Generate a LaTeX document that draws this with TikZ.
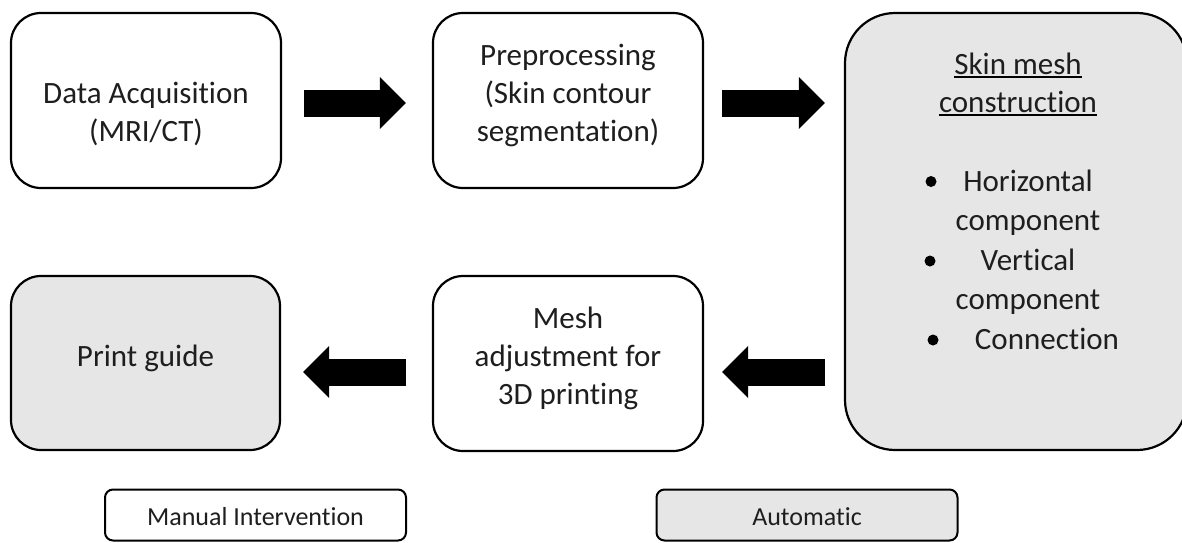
\documentclass[tikz,border=0pt]{standalone}
\usepackage{fontspec}
\setmainfont{Carlito}[Ligatures=NoCommon]
\usetikzlibrary{arrows.meta,calc}
\definecolor{autofill}{RGB}{230,230,230}
\definecolor{ink}{RGB}{30,30,30}
\begin{document}
\begin{tikzpicture}[x=1pt,y=-1pt,
  stagebox/.style={draw=black, line width=2.2pt, rounded corners=30pt,
    inner sep=0pt, minimum width=270pt, minimum height=175pt},
  legendbox/.style={draw=black, line width=2pt, rounded corners=8pt,
    inner sep=0pt, minimum width=301pt, minimum height=51pt,
    font=\fontsize{26}{31}\selectfont, text=ink,
    text height=21pt, text depth=0pt},
  txt/.style={anchor=base, inner sep=0pt, text=ink,
    font=\fontsize{31}{38}\selectfont},
  flow/.style={line width=27pt, draw=black,
    -{Triangle[length=26pt, width=52pt, line width=0pt]}},
  dot/.style={circle, fill=black, inner sep=0pt, minimum size=11pt}]
\useasboundingbox (0,0) rectangle (1182,542);
\clip (0,0) rectangle (1182,542);

% process stages
\node[stagebox, fill=white] (acq) at (146,100.5) {};
\node[stagebox, fill=white] (prep) at (568,100.5) {};
\node[stagebox, fill=autofill, rounded corners=50pt,
  minimum width=342pt, minimum height=437pt] (skin) at (1016,231.5) {};
\node[stagebox, fill=white] (adj) at (568,363.5) {};
\node[stagebox, fill=autofill, minimum width=269pt, minimum height=174pt,
  font=\fontsize{31}{38}\selectfont, text=ink,
  text height=20pt, text depth=14pt] (guide) at (145.5,363) {Print guide};

% stage labels
\node[txt] (acq1) at (146,103) {Data Acquisition};
\node[txt] (acq2) at (146,141) {(MRI/CT)};

\node[txt] (prep1) at (568,65) {Preprocessing};
\node[txt] (prep2) at (568,103) {(Skin contour};
\node[txt] (prep3) at (568,141) {segmentation)};

\node[txt] (adj1) at (568,328) {Mesh};
\node[txt] (adj2) at (568,366) {adjustment for};
\node[txt] (adj3) at (568,404) {3D printing};

\node[txt] (skin1) at (1018,74) {Skin mesh};
\node[txt] (skin2) at (1018,112) {construction};
\draw[line width=1.5pt] ($(skin1.base west)+(0,3)$) -- ($(skin1.base east)+(0,3)$);
\draw[line width=1.5pt] ($(skin2.base west)+(0,3)$) -- ($(skin2.base east)+(0,3)$);
\node[txt] (hor1) at (1028,191) {Horizontal};
\node[txt] (hor2) at (1028,230) {component};
\node[txt] (ver1) at (1028,270) {Vertical};
\node[txt] (ver2) at (1028,309) {component};
\node[txt] (con1) at (1047,349) {Connection};
\node[dot] (b1) at (931,181.5) {};
\node[dot] (b2) at (930,261) {};
\node[dot] (b3) at (933,340) {};

% flow between stages
\draw[flow] ($(acq.east)+(22,2.5)$) -- ($(prep.west)+(-26,2.5)$);
\draw[flow] ($(prep.east)+(18,2.5)$) -- ($(prep.east -| skin.west)+(-19,2.5)$);
\draw[flow] ($(adj.east -| skin.west)+(-19,8.5)$) -- ($(adj.east)+(18,8.5)$);
\draw[flow] ($(adj.west)+(-26,8.5)$) -- ($(guide.east)+(22,9)$);

% legend
\node[legendbox, fill=white] (manual) at (255.5,515) {Manual Intervention};
\node[legendbox, fill=autofill] (auto) at (807,515) {Automatic};
\end{tikzpicture}
\end{document}
